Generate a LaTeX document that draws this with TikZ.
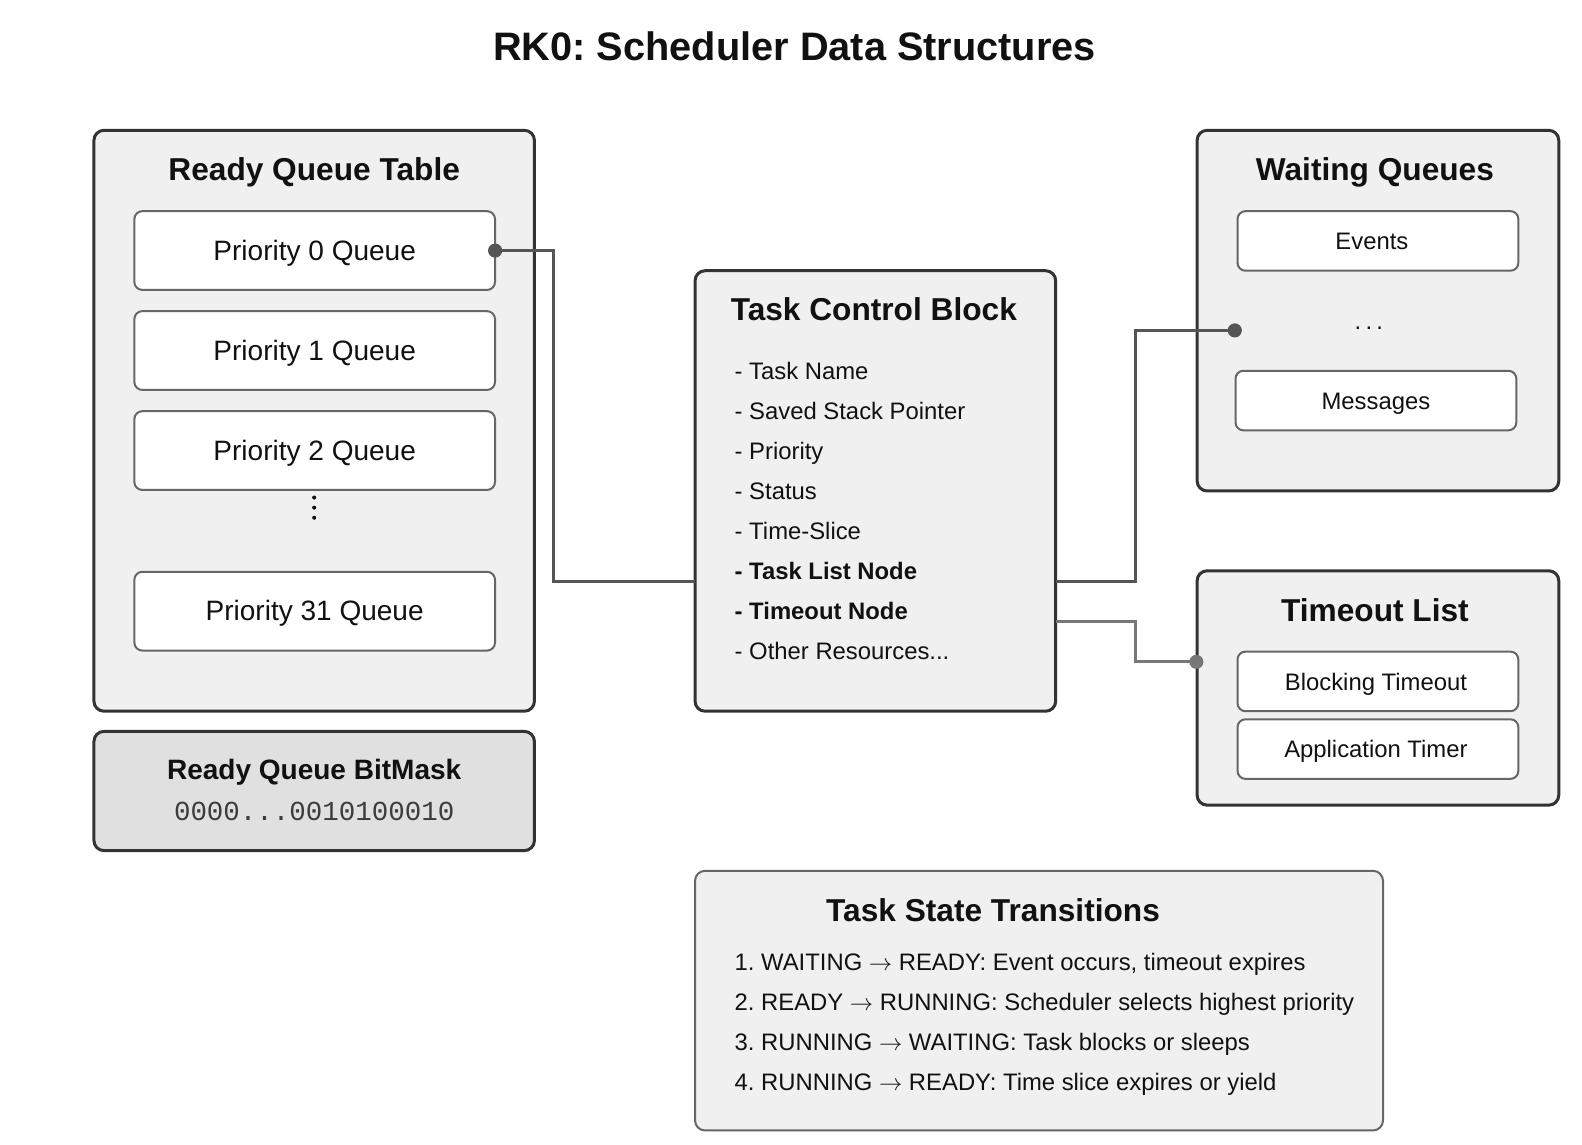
\documentclass[tikz,border=0pt]{standalone}
\usepackage{fontspec}
\setmainfont{Liberation Sans}
\newfontfamily\bitfont{Liberation Mono}
\newcommand\setfs[1]{\fontsize{#1}{#1}\selectfont}
\newcommand\arr{ $\rightarrow$ }
\frenchspacing
\definecolor{panelfill}{HTML}{F0F0F0}
\definecolor{maskfill}{HTML}{E0E0E0}
\definecolor{edgedark}{HTML}{333333}
\definecolor{edgemid}{HTML}{666666}
\definecolor{wire}{HTML}{555555}
\definecolor{wirelight}{HTML}{777777}
\definecolor{ink}{HTML}{111111}
\definecolor{bitink}{HTML}{3C3C3C}
\begin{document}
\frenchspacing
\begin{tikzpicture}[x=0.75pt,y=-0.75pt,scale=1.0102,
  every node/.append style={transform shape},
  panel/.style={draw=edgedark, fill=panelfill, line width=2.25pt, rounded corners=7.5pt, inner sep=0pt, outer sep=0pt},
  slot/.style={draw=edgemid, fill=white, line width=1.5pt, rounded corners=6pt, inner sep=0pt, outer sep=0pt, minimum width=208.5pt, minimum height=44.25pt},
  pslot/.style={slot, minimum width=267.75pt, minimum height=58.5pt},
  lbl/.style={inner sep=0pt, anchor=base, text=ink},
  lblw/.style={inner sep=0pt, anchor=base west, text=ink},
  ttl/.style={lbl, font=\bfseries\setfs{23.5pt}},
  small/.style={font=\setfs{17.7pt}},
  conn/.style={draw=wire, line width=2.25pt},
  connl/.style={draw=wirelight, line width=2.25pt},
]
\useasboundingbox (0,0) rectangle (1566,1132.45);

% main title
\node[lbl, font=\bfseries\setfs{29.5pt}] (title) at (786.5,60) {RK0: Scheduler Data Structures};

% Ready queue table
\node[panel, minimum width=327pt, minimum height=431.25pt] (rqt) at (311,416.5) {};
\node[ttl] (rqtt) at (311,178.5) {Ready Queue Table};
\node[pslot] (p0) at (311.5,248) {};
\node[pslot] (p1) at (311.5,347) {};
\node[pslot] (p2) at (311.5,446) {};
\node[pslot] (p31) at (311.5,605) {};
\node[lbl, font=\setfs{20.8pt}] (p0t) at (311.5,257.5) {Priority 0 Queue};
\node[lbl, font=\setfs{20.8pt}] (p1t) at (311.5,356.5) {Priority 1 Queue};
\node[lbl, font=\setfs{20.8pt}] (p2t) at (311.5,455.5) {Priority 2 Queue};
\node[lbl, font=\setfs{20.8pt}] (p31t) at (311.5,614.5) {Priority 31 Queue};
\fill[ink] (311,492.5) circle[radius=2] (311,502.5) circle[radius=2] (311,512.5) circle[radius=2];

% bitmask
\node[panel, fill=maskfill, minimum width=327pt, minimum height=88.5pt] (bm) at (311,783) {};
\node[lbl, font=\bfseries\setfs{20.8pt}] (bmt) at (311,772) {Ready Queue BitMask};
\node[lbl, font=\bitfont\setfs{20.4pt}, text=bitink] (bmv) at (311,812) {0000...0010100010};

% task control block
\node[panel, minimum width=267.75pt, minimum height=327pt] (tcb) at (866.5,486) {};
\node[ttl] (tcbt) at (865,317) {Task Control Block};
\node[lblw, small] (f1) at (727,375.2) {- Task Name};
\node[lblw, small] (f2) at (727,415.1) {- Saved Stack Pointer};
\node[lblw, small] (f3) at (727,454.7) {- Priority};
\node[lblw, small] (f4) at (727,494.3) {- Status};
\node[lblw, small] (f5) at (727,533.9) {- Time-Slice};
\node[lblw, small, font=\bfseries\setfs{17.7pt}] (f6) at (727,573.5) {- Task List Node};
\node[lblw, small, font=\bfseries\setfs{17.7pt}] (f7) at (727,613.1) {- Timeout Node};
\node[lblw, small] (f8) at (727,652.7) {- Other Resources...};

% waiting queues
\node[panel, minimum width=268.5pt, minimum height=267.75pt] (wq) at (1364,307.5) {};
\node[ttl] (wqt) at (1361,178.5) {Waiting Queues};
\node[slot] (ev) at (1364,238.5) {};
\node[lbl, small] (evt) at (1358,246.5) {Events};
\node[lbl, small] (dots) at (1355,326.5) {.\kern3.2pt.\kern3.2pt.};
\node[slot] (msg) at (1362,396.5) {};
\node[lbl, small] (msgt) at (1362,405) {Messages};

% timeout list
\node[panel, minimum width=268.5pt, minimum height=174pt] (tl) at (1364,681) {};
\node[ttl] (tlt) at (1361,615) {Timeout List};
\node[slot] (bt) at (1364,674.5) {};
\node[lbl, small] (btt) at (1362,683.5) {Blocking Timeout};
\node[slot] (at) at (1364,741.5) {};
\node[lbl, small] (att) at (1362,749.5) {Application Timer};

% task state transitions
\node[panel, draw=edgemid, line width=1.5pt, minimum width=510.75pt, minimum height=192.75pt] (tst) at (1028.5,990.5) {};
\node[ttl] (tstt) at (983,912) {Task State Transitions};
\node[lblw, small] (s1) at (727,960.3) {1. WAITING\arr READY: Event occurs, timeout expires};
\node[lblw, small] (s2) at (727,999.9) {2. READY\arr RUNNING: Scheduler selects highest priority};
\node[lblw, small] (s3) at (727,1039.5) {3. RUNNING\arr WAITING: Task blocks or sleeps};
\node[lblw, small] (s4) at (727,1079.1) {4. RUNNING\arr READY: Time slice expires or yield};

% connector anchor points
\coordinate (k1) at (548,0);
\coordinate (k2) at (1124,0);
\coordinate (tcbA) at (688,575);
\coordinate (tcbB) at (1045,575);
\coordinate (tcbC) at (1045,615);
\coordinate (wqdot) at (1222,327);
\coordinate (tldot) at (1184,655);

\draw[conn] (p0.east) -| (k1 |- tcbA) -- (tcbA);
\draw[conn] (tcbB) -| (k2 |- wqdot) -- (wqdot);
\draw[connl] (tcbC) -| (k2 |- tldot) -- (tldot);
\fill[wire] (p0.east) circle[radius=7];
\fill[wire] (wqdot) circle[radius=7];
\fill[wirelight] (tldot) circle[radius=7];
\end{tikzpicture}
\end{document}
